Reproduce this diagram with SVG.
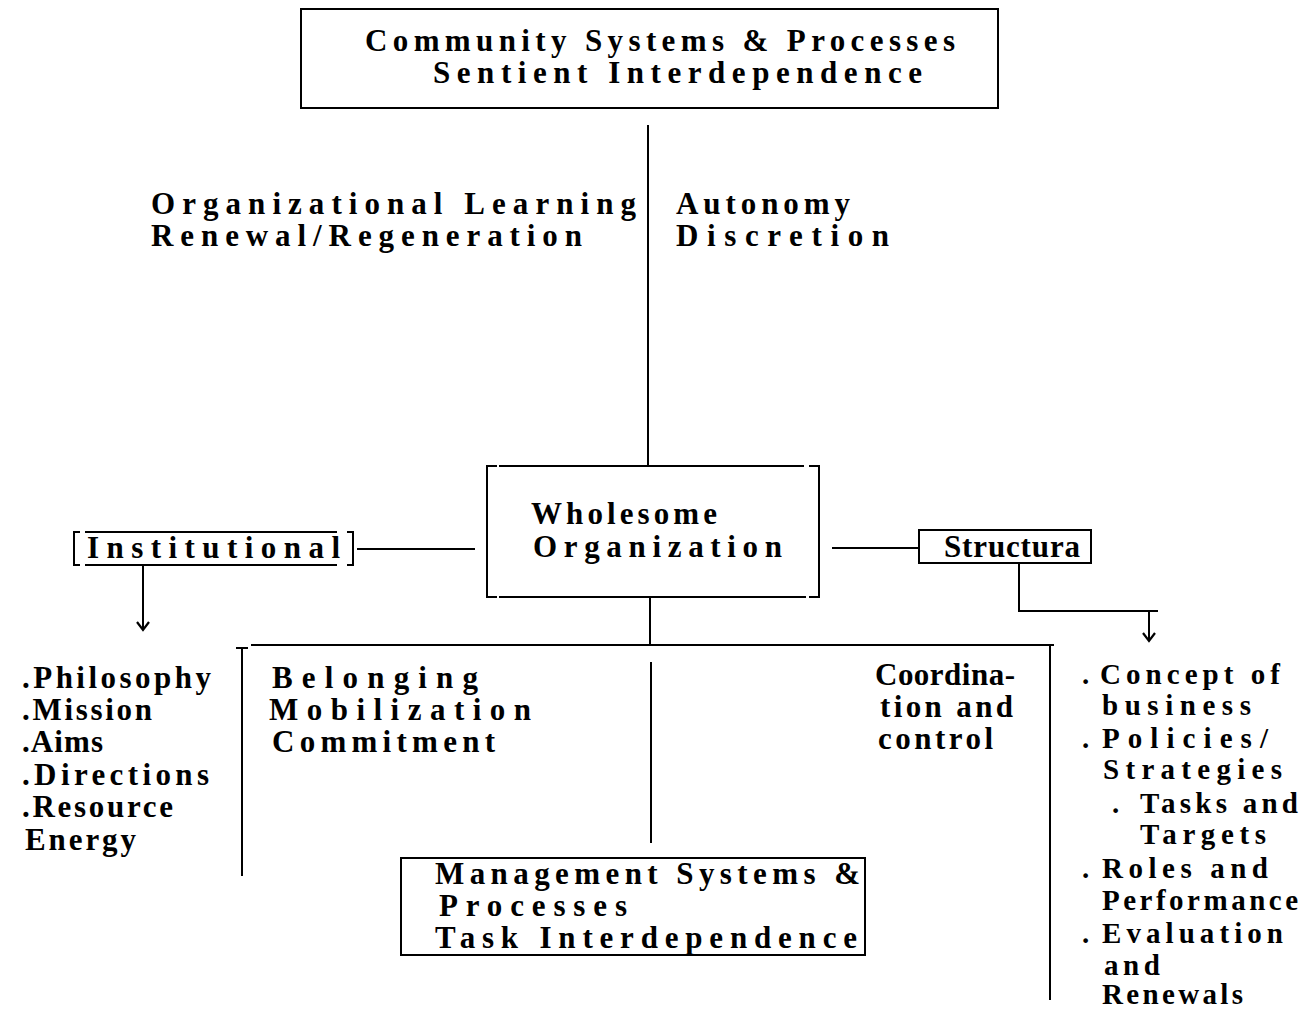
<svg xmlns="http://www.w3.org/2000/svg" width="1312" height="1012" viewBox="0 0 1312 1012">
<style>
  .t { font-family: "Liberation Serif", "Times New Roman", serif; font-size: 31px; font-weight: bold; fill: #000; }
  .s { font-size: 29px; }
  .ln { stroke: #000; stroke-width: 2; fill: none; }
  .bx { stroke: #000; stroke-width: 2; fill: #fff; }
</style>
<defs>
  <marker id="arr" markerWidth="14" markerHeight="14" refX="11" refY="7" orient="auto" markerUnits="userSpaceOnUse">
    <path d="M3,1 L11,7 L3,13" stroke="#000" stroke-width="2.2" fill="none"/>
  </marker>
</defs>
<rect width="1312" height="1012" fill="#fff"/>

<g id="connectors">
  <line class="ln" x1="648" y1="125" x2="648" y2="466"/>
  <line class="ln" x1="357" y1="549" x2="475" y2="549"/>
  <line class="ln" x1="832" y1="548" x2="926" y2="548"/>
  <line class="ln" x1="143" y1="566" x2="143" y2="630" marker-end="url(#arr)"/>
  <polyline class="ln" points="1019,563 1019,611 1158,611"/>
  <line class="ln" x1="1149" y1="611" x2="1149" y2="641" marker-end="url(#arr)"/>
  <line class="ln" x1="650" y1="597" x2="650" y2="645"/>
  <line class="ln" x1="251" y1="645" x2="1054" y2="645"/>
  <line class="ln" x1="242" y1="647" x2="242" y2="876"/>
  <line class="ln" x1="236" y1="648" x2="248" y2="648"/>
  <line class="ln" x1="1050" y1="645" x2="1050" y2="1000"/>
  <line class="ln" x1="651" y1="662" x2="651" y2="843"/>
</g>

<g id="community">
  <rect class="bx" x="301" y="9" width="697" height="99"/>
  <text class="t" x="365" y="51" textLength="590" lengthAdjust="spacing">Community Systems &amp; Processes</text>
  <text class="t" x="433" y="83" textLength="489" lengthAdjust="spacing">Sentient Interdependence</text>
</g>

<g id="learning-labels">
  <text class="t" x="151" y="214" textLength="485" lengthAdjust="spacing">Organizational Learning</text>
  <text class="t" x="151" y="246" textLength="431" lengthAdjust="spacing">Renewal/Regeneration</text>
</g>

<g id="autonomy-labels">
  <text class="t" x="676" y="214" textLength="174" lengthAdjust="spacing">Autonomy</text>
  <text class="t" x="676" y="246" textLength="213" lengthAdjust="spacing">Discretion</text>
</g>

<g id="wholesome">
  <rect x="487" y="466" width="332" height="131" fill="#fff"/>
  <path class="ln" d="M497,466 H487 V597 H497"/>
  <path class="ln" d="M809,466 H819 V597 H809"/>
  <line class="ln" x1="499" y1="466" x2="804" y2="466"/>
  <line class="ln" x1="499" y1="597" x2="806" y2="597"/>
  <text class="t" x="531" y="524" textLength="186" lengthAdjust="spacing">Wholesome</text>
  <text class="t" x="533" y="557" textLength="249" lengthAdjust="spacing">Organization</text>
</g>

<g id="institutional">
  <path class="ln" d="M80,532 H74 V565 H80"/>
  <path class="ln" d="M347,532 H353 V565 H347"/>
  <line class="ln" x1="85" y1="532" x2="337" y2="532"/>
  <line class="ln" x1="85" y1="565" x2="337" y2="565"/>
  <text class="t" x="87" y="558" textLength="253" lengthAdjust="spacing">Institutional</text>
</g>

<g id="structural">
  <rect class="bx" x="919" y="530" width="172" height="33"/>
  <text class="t" x="944" y="557" textLength="136" lengthAdjust="spacing">Structura</text>
</g>

<g id="institutional-list">
  <text class="t" x="22" y="688" textLength="189" lengthAdjust="spacing">.Philosophy</text>
  <text class="t" x="22" y="720" textLength="130" lengthAdjust="spacing">.Mission</text>
  <text class="t" x="22" y="752" textLength="81" lengthAdjust="spacing">.Aims</text>
  <text class="t" x="22" y="785" textLength="187" lengthAdjust="spacing">.Directions</text>
  <text class="t" x="22" y="817" textLength="151" lengthAdjust="spacing">.Resource</text>
  <text class="t" x="25" y="850" textLength="111" lengthAdjust="spacing">Energy</text>
</g>

<g id="belonging-labels">
  <text class="t" x="272" y="688" textLength="206" lengthAdjust="spacing">Belonging</text>
  <text class="t" x="269" y="720" textLength="262" lengthAdjust="spacing">Mobilization</text>
  <text class="t" x="272" y="752" textLength="223" lengthAdjust="spacing">Commitment</text>
</g>

<g id="coordination-labels">
  <text class="t" x="875" y="685" textLength="140" lengthAdjust="spacing">Coordina-</text>
  <text class="t" x="880" y="717" textLength="133" lengthAdjust="spacing">tion and</text>
  <text class="t" x="878" y="749" textLength="115" lengthAdjust="spacing">control</text>
</g>

<g id="management">
  <rect class="bx" x="401" y="858" width="464" height="97"/>
  <text class="t" x="435" y="884" textLength="425" lengthAdjust="spacing">Management Systems &amp;</text>
  <text class="t" x="439" y="916" textLength="188" lengthAdjust="spacing">Processes</text>
  <text class="t" x="435" y="948" textLength="422" lengthAdjust="spacing">Task Interdependence</text>
</g>

<g id="structural-list">
  <text class="t s" x="1082" y="684">.</text>
  <text class="t s" x="1100" y="684" textLength="180" lengthAdjust="spacing">Concept of</text>
  <text class="t s" x="1102" y="715" textLength="149" lengthAdjust="spacing">business</text>
  <text class="t s" x="1082" y="748">.</text>
  <text class="t s" x="1102" y="748" textLength="166" lengthAdjust="spacing">Policies/</text>
  <text class="t s" x="1103" y="779" textLength="179" lengthAdjust="spacing">Strategies</text>
  <text class="t s" x="1112" y="813">.</text>
  <text class="t s" x="1140" y="813" textLength="158" lengthAdjust="spacing">Tasks and</text>
  <text class="t s" x="1140" y="844" textLength="126" lengthAdjust="spacing">Targets</text>
  <text class="t s" x="1082" y="878">.</text>
  <text class="t s" x="1102" y="878" textLength="166" lengthAdjust="spacing">Roles and</text>
  <text class="t s" x="1102" y="910" textLength="196" lengthAdjust="spacing">Performance</text>
  <text class="t s" x="1082" y="943">.</text>
  <text class="t s" x="1102" y="943" textLength="181" lengthAdjust="spacing">Evaluation</text>
  <text class="t s" x="1104" y="975" textLength="56" lengthAdjust="spacing">and</text>
  <text class="t s" x="1102" y="1004" textLength="141" lengthAdjust="spacing">Renewals</text>
</g>
</svg>
